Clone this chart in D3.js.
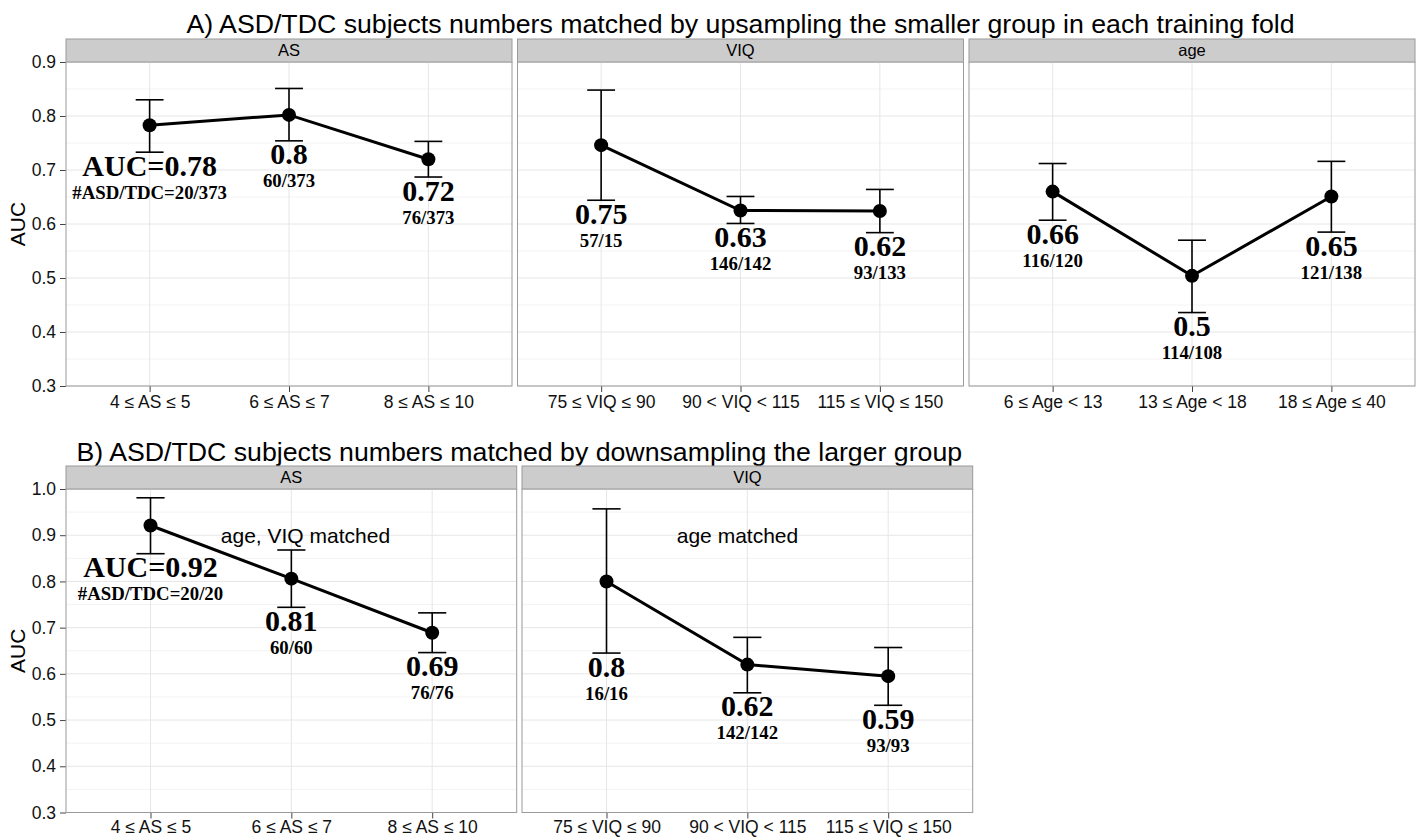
<!DOCTYPE html>
<html>
<head>
<meta charset="utf-8">
<title>AUC by subgroup</title>
<script src="https://d3js.org/d3.v7.min.js"></script>
<style>
  body { margin: 0; background: #fff; }
  svg text { font-family: "Liberation Sans", Arial, Helvetica, sans-serif; }
  .lab { font-family: "Liberation Serif", "Times New Roman", serif !important; font-weight: bold; }
</style>
</head>
<body>
<div id="chart"></div>
<script>
// categories
var catsAS  = ["4 ≤ AS ≤ 5", "6 ≤ AS ≤ 7", "8 ≤ AS ≤ 10"];
var catsVIQ = ["75 ≤ VIQ ≤ 90", "90 < VIQ < 115", "115 ≤ VIQ ≤ 150"];
var catsAge = ["6 ≤ Age < 13", "13 ≤ Age < 18", "18 ≤ Age ≤ 40"];

// A) upsampling
var aucA_AS   = [0.783, 0.802, 0.720];
var lowA_AS   = [0.733, 0.754, 0.687];
var highA_AS  = [0.830, 0.851, 0.753];
var aucA_VIQ  = [0.746, 0.625, 0.624];
var lowA_VIQ  = [0.644, 0.601, 0.584];
var highA_VIQ = [0.848, 0.651, 0.664];
var aucA_Age  = [0.660, 0.504, 0.651];
var lowA_Age  = [0.607, 0.436, 0.585];
var highA_Age = [0.712, 0.570, 0.716];

var bigA_AS   = ["AUC=0.78", "0.8", "0.72"];
var smallA_AS = ["#ASD/TDC=20/373", "60/373", "76/373"];
var bigA_VIQ   = ["0.75", "0.63", "0.62"];
var smallA_VIQ = ["57/15", "146/142", "93/133"];
var bigA_Age   = ["0.66", "0.5", "0.65"];
var smallA_Age = ["116/120", "114/108", "121/138"];

// B) downsampling
var aucB_AS   = [0.921, 0.806, 0.689];
var lowB_AS   = [0.860, 0.744, 0.646];
var highB_AS  = [0.981, 0.868, 0.732];
var aucB_VIQ  = [0.800, 0.620, 0.595];
var lowB_VIQ  = [0.645, 0.559, 0.532];
var highB_VIQ = [0.957, 0.679, 0.657];

var bigB_AS   = ["AUC=0.92", "0.81", "0.69"];
var smallB_AS = ["#ASD/TDC=20/20", "60/60", "76/76"];
var bigB_VIQ   = ["0.8", "0.62", "0.59"];
var smallB_VIQ = ["16/16", "142/142", "93/93"];

var ticksA = [0.3, 0.4, 0.5, 0.6, 0.7, 0.8, 0.9];
var ticksB = [0.3, 0.4, 0.5, 0.6, 0.7, 0.8, 0.9, 1.0];

var titleA = "A) ASD/TDC subjects numbers matched by upsampling the smaller group in each training fold";
var titleB = "B) ASD/TDC subjects numbers matched by downsampling the larger group";

var W = 1417, H = 839;
var svg = d3.select("#chart").append("svg").attr("width", W).attr("height", H);

function pack(cats, auc, low, high, big, small) {
  return cats.map(function(c, i) {
    return { cat: c, auc: auc[i], low: low[i], high: high[i], big: big[i], small: small[i] };
  });
}

var rows = [
  { title: titleA, titleY: 33, stripTop: 39, top: 62, bottom: 386, left: 66, w: 446, gap: 5.5, pad: 4,
    domain: [0.3, 0.9], ticks: ticksA,
    panels: [
      { name: "AS",  cats: catsAS,  data: pack(catsAS, aucA_AS, lowA_AS, highA_AS, bigA_AS, smallA_AS) },
      { name: "VIQ", cats: catsVIQ, data: pack(catsVIQ, aucA_VIQ, lowA_VIQ, highA_VIQ, bigA_VIQ, smallA_VIQ) },
      { name: "age", cats: catsAge, data: pack(catsAge, aucA_Age, lowA_Age, highA_Age, bigA_Age, smallA_Age) }
    ] },
  { title: titleB, titleY: 460.5, stripTop: 466, top: 489, bottom: 812.5, left: 66, w: 450.7, gap: 5.3, pad: 2,
    domain: [0.3, 1.0], ticks: ticksB,
    panels: [
      { name: "AS",  cats: catsAS,  data: pack(catsAS, aucB_AS, lowB_AS, highB_AS, bigB_AS, smallB_AS),
        note: { text: "age, VIQ matched", x: 2.1, y: 0.9 } },
      { name: "VIQ", cats: catsVIQ, data: pack(catsVIQ, aucB_VIQ, lowB_VIQ, highB_VIQ, bigB_VIQ, smallB_VIQ),
        note: { text: "age matched", x: 1.93, y: 0.9 } }
    ] }
];

rows.forEach(function(row) {
  var y = d3.scaleLinear().domain(row.domain).range([row.bottom, row.top]);
  var minor = d3.range(row.domain[0] + 0.05, row.domain[1], 0.1);
  var n = row.panels.length;
  var totalRight = row.left + n * row.w + (n - 1) * row.gap;

  svg.append("text")
    .attr("x", (row.left + totalRight) / 2).attr("y", row.titleY)
    .attr("text-anchor", "middle").style("font-size", "26.7px").attr("fill", "#000")
    .text(row.title);

  svg.append("text")
    .attr("transform", "translate(25," + (row.top + row.bottom) / 2 + ") rotate(-90)")
    .attr("text-anchor", "middle").style("font-size", "21px").attr("fill", "#000")
    .text("AUC");

  row.panels.forEach(function(p, pi) {
    var x0 = row.left + pi * (row.w + row.gap), x1 = x0 + row.w;
    var x = d3.scalePoint().domain(p.cats).range([x0, x1]).padding(0.6);
    var step = x.step();
    var xl = d3.scaleLinear().domain([1, 3]).range([x(p.cats[0]), x(p.cats[2])]);
    var g = svg.append("g");

    // strip
    g.append("rect").attr("x", x0).attr("y", row.stripTop).attr("width", row.w)
      .attr("height", row.top - row.stripTop).attr("fill", "#cccccc").attr("stroke", "#9a9a9a");
    g.append("text").attr("x", (x0 + x1) / 2).attr("y", (row.stripTop + row.top) / 2)
      .attr("dy", "0.36em").attr("text-anchor", "middle").style("font-size", "16.5px").text(p.name);

    // grid
    g.selectAll(".mn").data(minor).enter().append("line")
      .attr("x1", x0).attr("x2", x1).attr("y1", function(d) { return y(d); }).attr("y2", function(d) { return y(d); })
      .attr("stroke", "#f3f3f3").attr("stroke-width", 1);
    g.selectAll(".mj").data(row.ticks).enter().append("line")
      .attr("x1", x0).attr("x2", x1).attr("y1", function(d) { return y(d); }).attr("y2", function(d) { return y(d); })
      .attr("stroke", "#e6e6e6").attr("stroke-width", 1);
    g.selectAll(".vg").data(p.cats).enter().append("line")
      .attr("x1", function(d) { return x(d); }).attr("x2", function(d) { return x(d); })
      .attr("y1", row.top).attr("y2", row.bottom)
      .attr("stroke", "#e6e6e6").attr("stroke-width", 1);

    // axes
    var xa = g.append("g").attr("transform", "translate(0," + row.bottom + ")")
      .call(d3.axisBottom(x).tickSize(6).tickPadding(row.pad));
    xa.select(".domain").remove();
    xa.selectAll("line").attr("stroke", "#444");
    xa.selectAll("text").style("font-size", "17.5px").attr("fill", "#111");

    if (pi === 0) {
      var ya = g.append("g").attr("transform", "translate(" + x0 + ",0)")
        .call(d3.axisLeft(y).tickValues(row.ticks).tickFormat(d3.format(".1f")).tickSize(6).tickPadding(4));
      ya.select(".domain").remove();
      ya.selectAll("line").attr("stroke", "#444");
      ya.selectAll("text").style("font-size", "17.5px").attr("fill", "#111");
    }

    // error bars
    var half = step * 0.1;
    var eb = g.selectAll(".eb").data(p.data).enter().append("g").attr("stroke", "#000").attr("stroke-width", 1.6);
    eb.append("line").attr("x1", function(d) { return x(d.cat); }).attr("x2", function(d) { return x(d.cat); })
      .attr("y1", function(d) { return y(d.low); }).attr("y2", function(d) { return y(d.high); });
    eb.append("line").attr("x1", function(d) { return x(d.cat) - half; }).attr("x2", function(d) { return x(d.cat) + half; })
      .attr("y1", function(d) { return y(d.high); }).attr("y2", function(d) { return y(d.high); });
    eb.append("line").attr("x1", function(d) { return x(d.cat) - half; }).attr("x2", function(d) { return x(d.cat) + half; })
      .attr("y1", function(d) { return y(d.low); }).attr("y2", function(d) { return y(d.low); });

    // line + points
    var line = d3.line().x(function(d) { return x(d.cat); }).y(function(d) { return y(d.auc); });
    g.append("path").datum(p.data).attr("d", line).attr("fill", "none")
      .attr("stroke", "#000").attr("stroke-width", 3);
    g.selectAll(".pt").data(p.data).enter().append("circle")
      .attr("cx", function(d) { return x(d.cat); }).attr("cy", function(d) { return y(d.auc); })
      .attr("r", 7).attr("fill", "#000");

    // value labels
    g.selectAll(".big").data(p.data).enter().append("text").attr("class", "lab")
      .attr("x", function(d) { return x(d.cat); }).attr("y", function(d) { return y(d.low) + 23.5; })
      .attr("text-anchor", "middle").style("font-size", "30px").text(function(d) { return d.big; });
    g.selectAll(".small").data(p.data).enter().append("text").attr("class", "lab")
      .attr("x", function(d) { return x(d.cat); }).attr("y", function(d) { return y(d.low) + 46.5; })
      .attr("text-anchor", "middle").style("font-size", "18.8px").text(function(d) { return d.small; });

    if (p.note) {
      g.append("text").attr("x", xl(p.note.x)).attr("y", y(p.note.y)).attr("dy", "0.35em")
        .attr("text-anchor", "middle").style("font-size", "21px").text(p.note.text);
    }

    // panel border
    g.append("rect").attr("x", x0).attr("y", row.top).attr("width", row.w)
      .attr("height", row.bottom - row.top).attr("fill", "none").attr("stroke", "#9a9a9a");
  });
});
</script>
</body>
</html>
